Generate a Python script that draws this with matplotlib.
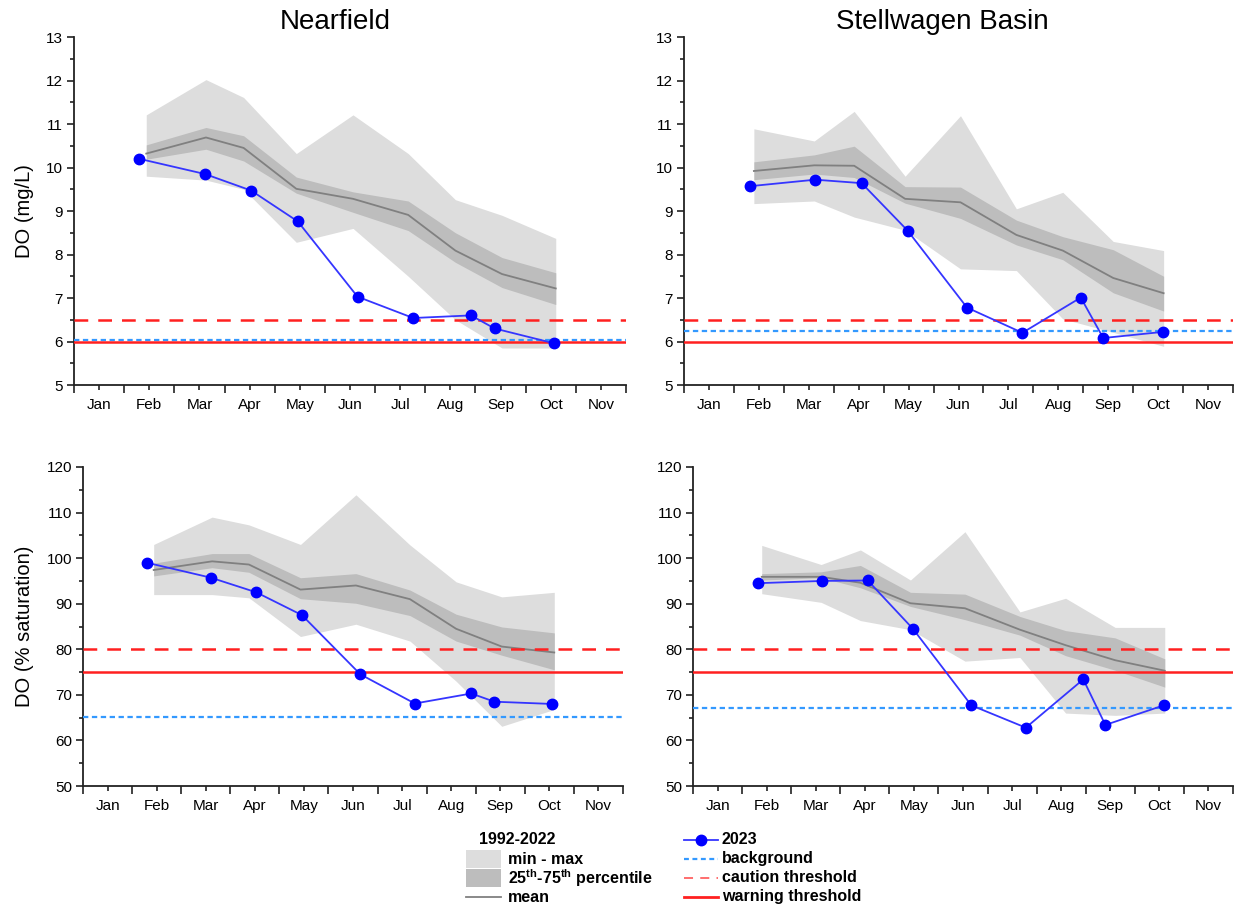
import matplotlib
matplotlib.use("Agg")
import matplotlib.pyplot as plt
from matplotlib.patches import Rectangle
from matplotlib.lines import Line2D

plt.rcParams['font.family'] = ['Liberation Sans', 'DejaVu Sans']
plt.rcParams['mathtext.fontset'] = 'custom'
plt.rcParams['mathtext.rm'] = 'Liberation Sans'
plt.rcParams['mathtext.bf'] = 'Liberation Sans:bold'

# ---------------- data ----------------
months = ['Jan', 'Feb', 'Mar', 'Apr', 'May', 'Jun', 'Jul', 'Aug', 'Sep', 'Oct', 'Nov']

# x positions in months (1.0 = 1 Jan, 12.0 = 1 Dec)
nf_hist_x = [2.44, 3.63, 4.38, 5.43, 6.56, 7.66, 8.60, 9.53, 10.60]
sw_hist_x = [2.40, 3.61, 4.41, 5.43, 6.54, 7.66, 8.59, 9.60, 10.61]
nf_2023_x = [2.30, 3.61, 4.53, 5.46, 6.65, 7.76, 8.91, 9.38, 10.56]
sw_2023_x = [2.32, 3.63, 4.56, 5.48, 6.67, 7.78, 8.95, 9.40, 10.59]

# Nearfield DO (mg/L) 1992-2022
nf_do_mean = [10.32, 10.69, 10.45, 9.51, 9.28, 8.91, 8.09, 7.55, 7.22]
nf_do_p75 = [10.52, 10.92, 10.73, 9.78, 9.44, 9.23, 8.50, 7.93, 7.58]
nf_do_p25 = [10.19, 10.42, 10.15, 9.41, 8.97, 8.55, 7.82, 7.24, 6.85]
nf_do_max = [11.21, 12.02, 11.61, 10.32, 11.21, 10.32, 9.26, 8.90, 8.37]
nf_do_min = [9.80, 9.71, 9.50, 8.28, 8.60, 7.50, 6.50, 5.85, 5.85]
nf_2023_do = [10.20, 9.85, 9.47, 8.76, 7.03, 6.54, 6.60, 6.30, 5.96]

# Nearfield DO (% saturation)
nf_sat_mean = [97.4, 99.3, 98.6, 93.1, 94.0, 91.0, 84.5, 80.6, 79.3]
nf_sat_p75 = [98.9, 101.0, 101.0, 95.7, 96.6, 93.0, 87.7, 84.9, 83.6]
nf_sat_p25 = [96.1, 97.9, 96.9, 91.1, 90.1, 87.4, 81.8, 78.7, 75.5]
nf_sat_max = [103.0, 109.0, 107.3, 103.0, 113.9, 102.9, 94.8, 91.5, 92.5]
nf_sat_min = [92.0, 92.0, 91.3, 82.8, 85.5, 81.8, 73.0, 63.1, 66.8]
nf_2023_sat = [99.0, 95.7, 92.5, 87.5, 74.5, 68.1, 70.3, 68.5, 68.0]

# Stellwagen Basin DO (mg/L)
sw_do_mean = [9.92, 10.05, 10.04, 9.28, 9.20, 8.45, 8.09, 7.46, 7.11]
sw_do_p75 = [10.13, 10.29, 10.49, 9.56, 9.55, 8.79, 8.41, 8.11, 7.50]
sw_do_p25 = [9.72, 9.85, 9.77, 9.18, 8.83, 8.22, 7.88, 7.12, 6.70]
sw_do_max = [10.89, 10.61, 11.29, 9.80, 11.19, 9.05, 9.43, 8.30, 8.09]
sw_do_min = [9.17, 9.23, 8.86, 8.56, 7.67, 7.63, 6.52, 6.21, 5.89]
sw_2023_do = [9.57, 9.72, 9.64, 8.55, 6.78, 6.20, 7.01, 6.08, 6.22]

# Stellwagen Basin DO (% saturation)
sw_sat_mean = [95.9, 95.9, 94.6, 90.1, 89.0, 84.3, 80.9, 77.6, 75.3]
sw_sat_p75 = [96.6, 97.0, 98.4, 92.5, 92.1, 87.2, 84.1, 82.5, 77.9]
sw_sat_p25 = [95.2, 95.7, 93.5, 89.4, 86.5, 83.1, 78.6, 75.4, 71.7]
sw_sat_max = [102.8, 98.6, 101.8, 95.2, 105.8, 88.2, 91.2, 84.8, 84.8]
sw_sat_min = [92.2, 90.3, 86.3, 84.3, 77.4, 78.2, 66.0, 65.5, 66.0]
sw_2023_sat = [94.5, 95.0, 95.1, 84.5, 67.7, 62.8, 73.4, 63.4, 67.7]

# thresholds: (background, caution, warning)
nf_do_thr = (6.04, 6.5, 6.0)
sw_do_thr = (6.23, 6.5, 6.0)
nf_sat_thr = (65.2, 80.0, 75.0)
sw_sat_thr = (67.2, 80.0, 75.0)

# ---------------- style ----------------
C_MINMAX = '#dddddd'
C_IQR = '#bdbdbd'
C_MEAN = '#808080'
C_BLUE_LINE = '#3535ff'
C_BLUE_MK = '#0000ff'
C_RED = '#ff2020'
C_BG = '#3399ff'

W, H = 1237, 911
fig = plt.figure(figsize=(W / 100, H / 100), dpi=100)


def ax_rect(x0, x1, ytop, ybot):
    return [x0 / W, 1 - ybot / H, (x1 - x0) / W, (ybot - ytop) / H]


def draw_panel(rect, hx, vmin, vmax, p25, p75, vmean, x23, v23, thr, ylim, major, minor):
    ax = fig.add_axes(rect)
    ax.fill_between(hx, vmin, vmax, color=C_MINMAX, lw=0, zorder=1)
    ax.fill_between(hx, p25, p75, color=C_IQR, lw=0, zorder=2)
    ax.plot(hx, vmean, color=C_MEAN, lw=1.3, zorder=3)
    bg, caution, warning = thr
    ax.axhline(bg, color=C_BG, lw=1.6, ls=(0, (2.4, 1.6)), zorder=4)
    ax.axhline(caution, color=C_RED, lw=1.8, ls=(0, (5.5, 4)), zorder=4)
    ax.axhline(warning, color=C_RED, lw=1.8, zorder=4)
    ax.plot(x23, v23, color=C_BLUE_LINE, lw=1.3, marker='o', ms=7.5,
            mfc=C_BLUE_MK, mec=C_BLUE_MK, zorder=6)
    ax.set_xlim(1, 12)
    ax.set_ylim(*ylim)
    ax.set_xticks(range(1, 13))
    ax.set_xticklabels([])
    ax.set_xticks([m + 1.5 for m in range(11)], minor=True)
    ax.set_xticklabels(months, minor=True)
    yt = []
    v = ylim[0]
    while v <= ylim[1] + 1e-9:
        yt.append(v)
        v += major
    ax.set_yticks(yt)
    ax.set_yticklabels([('%g' % t) for t in yt])
    ym = []
    v = ylim[0] + minor
    while v < ylim[1]:
        ym.append(v)
        v += major
    ax.set_yticks(ym, minor=True)
    for s in ('top', 'right'):
        ax.spines[s].set_visible(False)
    for s in ('left', 'bottom'):
        ax.spines[s].set_linewidth(1.3)
        ax.spines[s].set_color('#222222')
    ax.tick_params(axis='x', which='major', length=6, width=1.2, direction='out', color='#222222')
    ax.tick_params(axis='x', which='minor', length=3.5, width=1.2, direction='out',
                   color='#222222', labelsize=11, pad=6)
    ax.tick_params(axis='y', which='major', length=5, width=1.2, direction='out',
                   color='#222222', labelsize=11, pad=3)
    ax.tick_params(axis='y', which='minor', length=3, width=1.2, direction='out', color='#222222')
    ax.patch.set_alpha(0)
    return ax


draw_panel(ax_rect(74, 626, 37, 385), nf_hist_x, nf_do_min, nf_do_max, nf_do_p25, nf_do_p75,
           nf_do_mean, nf_2023_x, nf_2023_do, nf_do_thr, (5, 13), 1, 0.5)
draw_panel(ax_rect(684, 1233, 37, 385), sw_hist_x, sw_do_min, sw_do_max, sw_do_p25, sw_do_p75,
           sw_do_mean, sw_2023_x, sw_2023_do, sw_do_thr, (5, 13), 1, 0.5)
draw_panel(ax_rect(83, 623, 467, 786), nf_hist_x, nf_sat_min, nf_sat_max, nf_sat_p25, nf_sat_p75,
           nf_sat_mean, nf_2023_x, nf_2023_sat, nf_sat_thr, (50, 120), 10, 5)
draw_panel(ax_rect(693, 1233, 467, 786), sw_hist_x, sw_sat_min, sw_sat_max, sw_sat_p25, sw_sat_p75,
           sw_sat_mean, sw_2023_x, sw_2023_sat, sw_sat_thr, (50, 120), 10, 5)

# titles and y labels
fig.text(335 / W, 1 - 22 / H, 'Nearfield', ha='center', va='center', fontsize=20)
fig.text(942 / W, 1 - 22 / H, 'Stellwagen Basin', ha='center', va='center', fontsize=20)
fig.text(24 / W, 1 - 211 / H, 'DO (mg/L)', rotation=90, ha='center', va='center', fontsize=14.5)
fig.text(24 / W, 1 - 626 / H, 'DO (% saturation)', rotation=90, ha='center', va='center', fontsize=14.5)

# ---------------- legend (pixel overlay) ----------------
lg = fig.add_axes([0, 0, 1, 1], zorder=-1)
lg.set_xlim(0, W)
lg.set_ylim(H, 0)
lg.axis('off')
rows = [840, 859, 878, 897]
fs = 11.5
lg.text(479, rows[0], '1992-2022', fontsize=fs, fontweight='bold', va='center', ha='left')
lg.add_patch(Rectangle((466, rows[1] - 9), 35, 18, color=C_MINMAX, lw=0))
lg.text(508, rows[1], 'min - max', fontsize=fs, fontweight='bold', va='center', ha='left')
lg.add_patch(Rectangle((466, rows[2] - 9), 35, 18, color=C_IQR, lw=0))
lg.text(508, rows[2], r'25$^{\mathbf{th}}$-75$^{\mathbf{th}}$ percentile', fontsize=fs,
        fontweight='bold', va='center', ha='left')
lg.add_line(Line2D([466, 501], [rows[3], rows[3]], color=C_MEAN, lw=1.3))
lg.text(508, rows[3], 'mean', fontsize=fs, fontweight='bold', va='center', ha='left')

lg.add_line(Line2D([684, 718], [rows[0], rows[0]], color=C_BLUE_LINE, lw=1.3))
lg.add_line(Line2D([701], [rows[0]], color=C_BLUE_MK, marker='o', ms=7.5, lw=0))
lg.text(722, rows[0], '2023', fontsize=fs, fontweight='bold', va='center', ha='left')
lg.add_line(Line2D([684, 718], [rows[1], rows[1]], color=C_BG, lw=1.6, ls=(0, (2.2, 1.6))))
lg.text(722, rows[1], 'background', fontsize=fs, fontweight='bold', va='center', ha='left')
lg.add_line(Line2D([684, 718], [rows[2], rows[2]], color=C_RED, lw=1.3, ls=(0, (5, 4)), alpha=0.7))
lg.text(722, rows[2], 'caution threshold', fontsize=fs, fontweight='bold', va='center', ha='left')
lg.add_line(Line2D([684, 718], [rows[3], rows[3]], color=C_RED, lw=2.0))
lg.text(722, rows[3], 'warning threshold', fontsize=fs, fontweight='bold', va='center', ha='left')

fig.savefig('out.png', dpi=100)
